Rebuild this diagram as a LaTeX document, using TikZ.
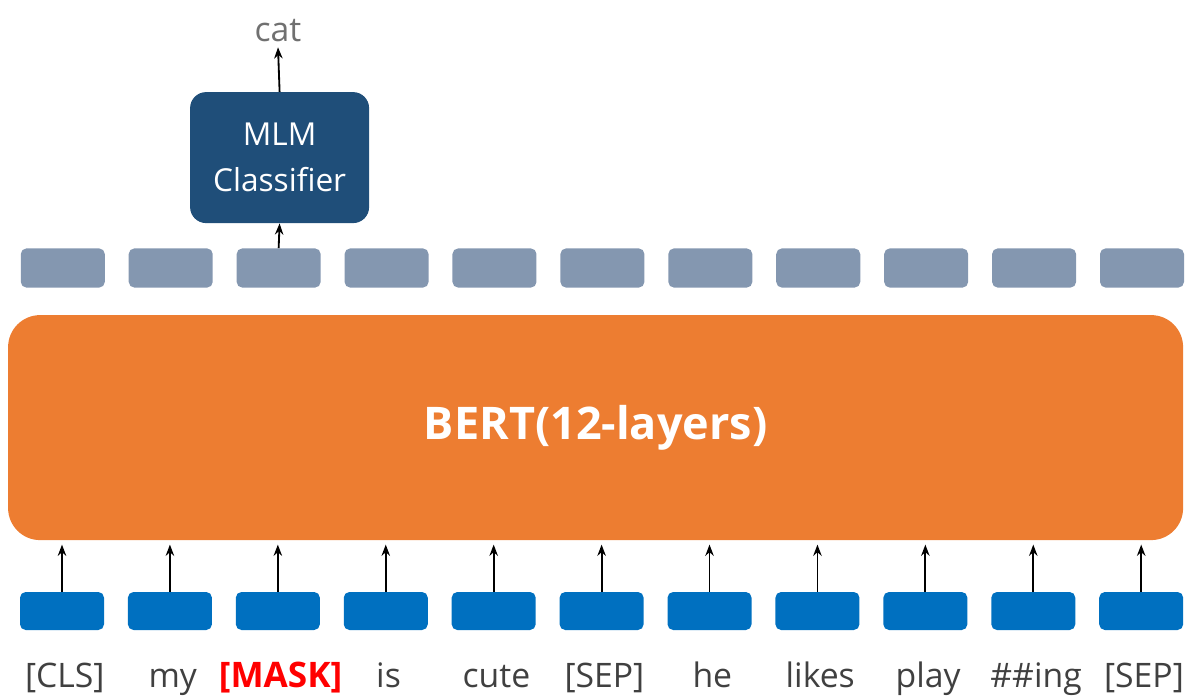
\documentclass[tikz,border=0pt]{standalone}
\usepackage{fontspec}
\setmainfont{Open Sans}
\usetikzlibrary{arrows.meta, positioning}

\definecolor{bertorange}{HTML}{ED7D31}
\definecolor{clsblue}{HTML}{1F4E79}
\definecolor{outgray}{HTML}{8497B0}
\definecolor{inblue}{HTML}{0070C0}
\definecolor{wordgray}{HTML}{404040}
\definecolor{catgray}{HTML}{707070}

\begin{document}
\begin{tikzpicture}[>={Stealth[length=8pt, width=6pt]}, node distance=0.0cm,
    inbox/.style={fill=inblue, rounded corners=4pt, minimum width=2.1cm, minimum height=0.95cm},
    outbox/.style={fill=outgray, rounded corners=4pt, minimum width=2.1cm, minimum height=0.98cm},
    word/.style={font=\fontsize{24}{28}\selectfont, text=wordgray, anchor=base},
    link/.style={->, line width=1.3pt}]
  \useasboundingbox (0,0) rectangle (29.7,-17.475);

  % BERT body
  \node[fill=bertorange, rounded corners=0.8cm, minimum width=29.375cm, minimum height=5.625cm,
        text=white, font=\fontsize{32}{38}\selectfont\bfseries] (bert) at (14.89, -10.69) {BERT(12-layers)};

  % input tokens and output vectors
  \foreach \lab [count=\i from 0] in {[CLS], my, {\color{red}\fontsize{25}{28}\selectfont\bfseries[MASK]}, is, cute, [SEP], he, likes, play, \#\#ing, [SEP]} {
    \node[inbox] (in\i) at (1.55+2.698*\i, -15.275) {};
    \node[outbox] (out\i) at (1.57+2.698*\i, -6.7) {};
    \node[word] (w\i) at (1.62+2.698*\i, -17.175) {\lab};
    \draw[link, shorten >=3pt] (in\i.north) -- (in\i.north |- bert.south);
  }

  % MLM head
  \node[fill=clsblue, rounded corners=0.4cm, minimum width=4.475cm, minimum height=3.275cm,
        text=white, align=center, font=\fontsize{22.5}{33}\selectfont] (mlm) at (6.99, -3.94) {MLM\\Classifier};
  \node[text=catgray, font=\fontsize{24}{28}\selectfont, anchor=base] (cat) at (6.95, -1.05) {cat};

  \draw[link] (out2.north) -- (mlm.south);
  \draw[link] (mlm.north) -- (cat.south);
\end{tikzpicture}
\end{document}
